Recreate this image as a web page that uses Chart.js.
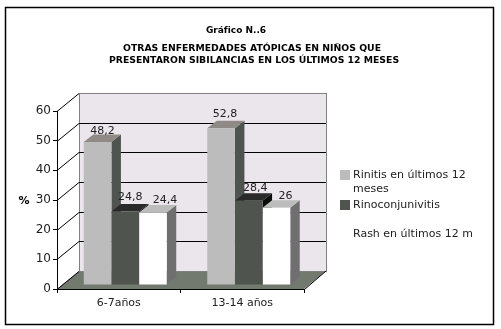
<!DOCTYPE html>
<html lang="es">
  <head>
    <meta charset="UTF-8" />
    <title>Gráfico N..6</title>
    <script src="https://cdn.jsdelivr.net/npm/chart.js"></script>
    <style>
      html,
      body {
        margin: 0;
        padding: 0;
        background: #fff;
      }
      canvas {
        display: block;
      }
    </style>
  </head>
  <body>
    <canvas id="chart" width="501" height="329"></canvas>
    <script>
      const categories = ["6-7años", "13-14 años"];
      const rinitis = [48.2, 52.8];
      const rinoconjuntivitis = [24.8, 28.4];
      const rash = [24.4, 26];
      const seriesNames = [
        ["Rinitis en últimos 12", "meses"],
        ["Rinoconjunivitis"],
        ["Rash en últimos 12 m"],
      ];
      const titleLines = [
        "OTRAS ENFERMEDADES ATÓPICAS EN NIÑOS QUE",
        "PRESENTARON SIBILANCIAS EN LOS ÚLTIMOS 12 MESES",
      ];
      const heading = "Gráfico N..6";
      const yAxisLabel = "%";

      const font = "DejaVu Sans, Verdana, sans-serif";
      const wallDx = 22;
      const wallDy = -18;
      const barDx = 9.5;
      const barDy = -7.5;
      const shiftX = 6.5;
      const shiftY = -4;

      const frontColors = ["#bcbcbc", "#50544f", "#ffffff"];
      const sideColors = ["#4f5450", "#0c0c0c", "#6f6f6f"];
      const topColors = ["#8f8a85", "#2a2a2a", "#bcbcbc"];
      // label placement relative to the bar top, dataset by dataset
      const labelNudgeX = [[5, 4], [5, 6.5], [12, 9]];
      const labelNudgeY = [[-11, -14], [-14, -13], [-12, -12]];

      function poly(ctx, pts, fill) {
        ctx.beginPath();
        pts.forEach((p, i) => (i ? ctx.lineTo(p[0], p[1]) : ctx.moveTo(p[0], p[1])));
        ctx.closePath();
        ctx.fillStyle = fill;
        ctx.fill();
      }

      const scene = {
        id: "scene",
        beforeDatasetsDraw(chart) {
          const { ctx, chartArea: a, scales } = chart;
          const y = scales.y;
          ctx.save();

          // back wall and floor
          poly(ctx, [[a.left + wallDx, a.top + wallDy], [a.right + wallDx, a.top + wallDy],
            [a.right + wallDx, a.bottom + wallDy], [a.left + wallDx, a.bottom + wallDy]], "#ebe5ec");
          poly(ctx, [[a.left, a.bottom], [a.left + wallDx, a.bottom + wallDy],
            [a.right + wallDx, a.bottom + wallDy], [a.right, a.bottom]], "#727a6f");

          ctx.strokeStyle = "#808080";
          ctx.lineWidth = 1;
          ctx.strokeRect(a.left + wallDx + 0.5, a.top + wallDy + 0.5, a.right - a.left, a.bottom - a.top);

          // grid lines on the side and back walls
          ctx.strokeStyle = "#000";
          y.ticks.forEach((t) => {
            const py = Math.round(y.getPixelForValue(t.value)) + 0.5;
            ctx.beginPath();
            ctx.moveTo(a.left, py);
            ctx.lineTo(a.left + wallDx, py + wallDy);
            if (t.value > 0 && t.value < 60) ctx.lineTo(a.right + wallDx, py + wallDy);
            ctx.stroke();
          });
          ctx.beginPath();
          ctx.moveTo(a.right + 0.5, a.bottom + 0.5);
          ctx.lineTo(a.right + wallDx, a.bottom + wallDy);
          ctx.stroke();

          // side and top faces, left to right, the fronts come after
          ctx.translate(shiftX, shiftY);
          categories.forEach((c, i) => {
            [0, 1, 2].forEach((d) => {
              const bar = chart.getDatasetMeta(d).data[i];
              const l = bar.x - bar.width / 2;
              const r = bar.x + bar.width / 2;
              poly(ctx, [[r, bar.y], [r + barDx, bar.y + barDy], [r + barDx, bar.base + barDy], [r, bar.base]], sideColors[d]);
              poly(ctx, [[l, bar.y], [l + barDx, bar.y + barDy], [r + barDx, bar.y + barDy], [r, bar.y]], topColors[d]);
            });
          });
          ctx.restore();

          ctx.save();
          ctx.translate(shiftX, shiftY);
        },
        afterDatasetsDraw(chart) {
          const { ctx } = chart;
          ctx.restore();

          // value labels
          ctx.save();
          ctx.fillStyle = "#222";
          ctx.font = "11px " + font;
          ctx.textAlign = "center";
          ctx.textBaseline = "middle";
          [0, 1, 2].forEach((d) => {
            chart.getDatasetMeta(d).data.forEach((bar, i) => {
              const v = chart.data.datasets[d].data[i];
              ctx.fillText(String(v).replace(".", ","), bar.x + shiftX + labelNudgeX[d][i], bar.y + shiftY + labelNudgeY[d][i]);
            });
          });

          // legend
          ctx.textAlign = "left";
          ctx.fillStyle = frontColors[0];
          ctx.fillRect(340, 170, 10, 10);
          ctx.fillStyle = frontColors[1];
          ctx.fillRect(340, 200, 10, 10);
          ctx.fillStyle = "#222";
          ctx.fillText(seriesNames[0][0], 353, 175);
          ctx.fillText(seriesNames[0][1], 353, 189);
          ctx.fillText(seriesNames[1][0], 353, 205);
          ctx.fillText(seriesNames[2][0], 353, 234);

          // titles
          ctx.fillStyle = "#000";
          ctx.textAlign = "center";
          ctx.font = "bold 9px " + font;
          ctx.fillText(heading, 236, 31);
          ctx.font = "bold 9.3px " + font;
          ctx.fillText(titleLines[0], 252, 49);
          ctx.fillText(titleLines[1], 254, 61);
          ctx.font = "bold 11px " + font;
          ctx.fillText(yAxisLabel, 24, 201);

          // frame
          ctx.strokeStyle = "#000";
          ctx.lineWidth = 1.5;
          ctx.strokeRect(5.5, 7.5, 488, 317);
          ctx.restore();
        },
      };

      new Chart(document.getElementById("chart"), {
        type: "bar",
        data: {
          labels: categories,
          datasets: [
            { label: seriesNames[0].join(" "), data: rinitis, backgroundColor: frontColors[0] },
            { label: seriesNames[1].join(" "), data: rinoconjuntivitis, backgroundColor: frontColors[1] },
            { label: seriesNames[2].join(" "), data: rash, backgroundColor: frontColors[2] },
          ],
        },
        options: {
          responsive: false,
          animation: false,
          layout: { padding: { left: 0, right: 197, top: 111, bottom: 0 } },
          datasets: { bar: { barPercentage: 1, categoryPercentage: 0.672 } },
          plugins: { legend: { display: false }, title: { display: false }, tooltip: { enabled: false } },
          scales: {
            x: {
              afterFit: (s) => { s.height = 40; },
              border: { color: "#000" },
              grid: { drawOnChartArea: false, color: "#000", tickLength: 4 },
              ticks: { color: "#222", font: { family: font, size: 11 }, padding: 4, maxRotation: 0 },
            },
            y: {
              min: 0,
              max: 60,
              afterFit: (s) => { s.width = 57; },
              border: { color: "#000" },
              grid: { drawOnChartArea: false, color: "#000", tickLength: 4 },
              ticks: { stepSize: 10, color: "#222", font: { family: font, size: 12 }, padding: 2 },
            },
          },
        },
        plugins: [scene],
      });
    </script>
  </body>
</html>
